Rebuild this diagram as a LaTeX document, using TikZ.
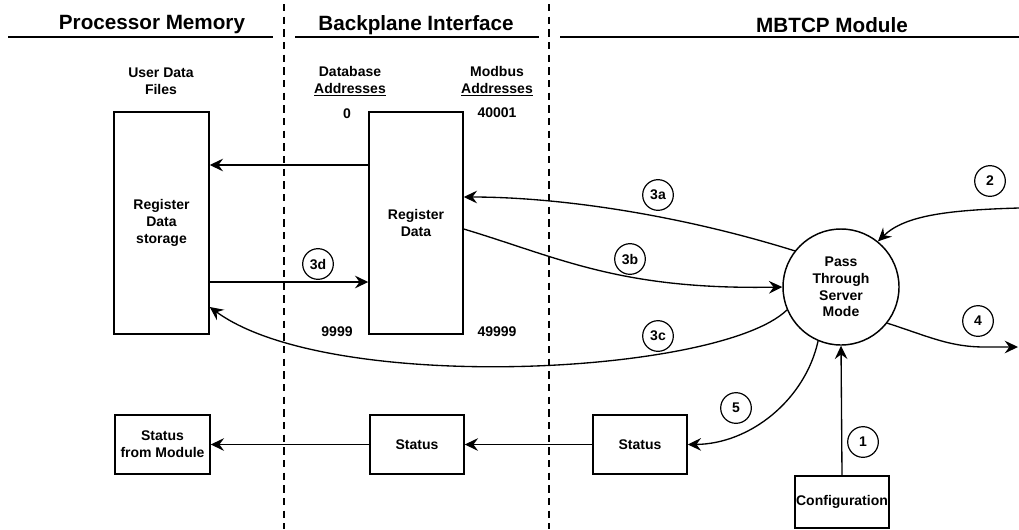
\documentclass[tikz,border=0pt]{standalone}
\usepackage{fontspec}
\setmainfont{Liberation Sans}
\usetikzlibrary{arrows.meta}
\begin{document}
\begin{tikzpicture}[x=0.75pt,y=-0.75pt,
  every node/.style={font=\bfseries\fontsize{10.5}{12.6}\selectfont, align=center, inner sep=0pt},
  hdr/.style={font=\bfseries\fontsize{15.5}{18}\selectfont},
  box/.style 2 args={draw, line width=1.1pt, minimum width=#1*0.75pt, minimum height=#2*0.75pt},
  num/.style={draw, circle, line width=0.9pt, minimum size=23pt},
  arr/.style={line width=1pt, -{Stealth[length=10pt,width=9.5pt,inset=3.5pt]}},
  divider/.style={line width=0.9pt, dash pattern=on 5.5pt off 4pt},
  rule/.style={line width=1.6pt}]
\useasboundingbox (0,0) rectangle (1019,529);

% dividers
\draw[divider] (284,4) -- (284,529);
\draw[divider] (549,4) -- (549,529);

% headers
\node[hdr] (h1) at (152,25) {Processor Memory};
\node[hdr] (h2) at (416,25) {Backplane Interface};
\node[hdr] (h3) at (832,25) {MBTCP Module};
\draw[rule] (8,37) -- (273,37);
\draw[rule] (295,37) -- (539,37);
\draw[rule] (560,37) -- (1019,37);

% column labels
\node (udf) at (161,81) {User Data\\Files};
\node (dba) at (350,81) {Database\\\underline{Addresses}};
\node (mba) at (497,81) {Modbus\\\underline{Addresses}};
\node (n0) at (347,114) {0};
\node (n40001) at (497,113) {40001};
\node (n9999) at (337,332) {9999};
\node (n49999) at (497,332) {49999};

% boxes
\node[box={95}{222}] (rds) at (161.5,223) {Register\\Data\\storage};
\node[box={94}{222}] (rd) at (416,223) {Register\\Data};
\node[box={95}{59}] (sfm) at (162.5,444.5) {Status\\from Module};
\node[box={94}{59}] (st2) at (417,444.5) {Status};
\node[box={94}{59}] (st3) at (640,444.5) {Status};
\node[box={94}{52}] (cfg) at (842,502) {Configuration};
\node[draw, circle, line width=1.1pt, minimum size=87pt] (ptsm) at (841,287) {Pass\\Through\\Server\\Mode};

% number labels
\node[num] (c3a) at (658,195) {3a};
\node[num] (c3b) at (630,259) {3b};
\node[num] (c3c) at (658,336) {3c};
\node[num] (c3d) at (318,264) {3d};
\node[num] (c2) at (990,181) {2};
\node[num] (c4) at (978,321) {4};
\node[num] (c5) at (736,408) {5};
\node[num] (c1) at (863,442) {1};

% free ends
\coordinate (e2) at (1019,208);
\coordinate (e4) at (1018,347);

% connectors
\draw[arr] (rd.west |- 0,165) -- (rds.east |- 0,165);
\draw[arr] (rds.east |- 0,282) -- (rd.west |- 0,282);
\draw[arr] (ptsm.142) .. controls (680,215) and (560,197) .. (rd.east |- 0,197);
\draw[arr] (rd.east |- 0,229) .. controls (560,258) and (620,290) .. (ptsm.west);
\draw[arr] (ptsm.203) .. controls (720,375) and (330,395) .. (rds.east |- 0,307);
\draw[arr] (e2) .. controls (950,210) and (905,215) .. (ptsm.51);
\draw[arr] (ptsm.322) .. controls (930,337) and (950,347) .. (985,347) -- (e4);
\draw[arr] (ptsm.247) .. controls (805,400) and (750,444) .. (st3.east);
\draw[arr] (cfg.north) -- (ptsm.south);
\draw[arr] (st3.west) -- (st2.east);
\draw[arr] (st2.west) -- (sfm.east);
\end{tikzpicture}
\end{document}
